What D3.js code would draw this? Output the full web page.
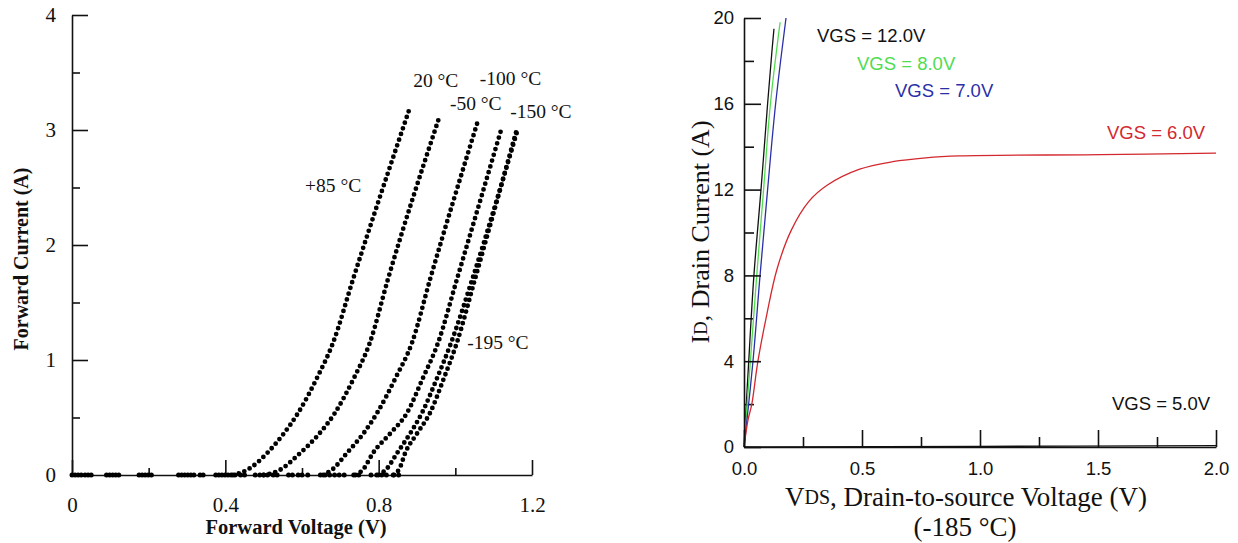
<!DOCTYPE html>
<html>
<head>
<meta charset="utf-8">
<script src="https://cdn.jsdelivr.net/npm/d3@7"></script>
<style>
  html, body { margin: 0; padding: 0; background: #fff; }
  svg { display: block; }
</style>
</head>
<body>
<svg id="chart" width="1238" height="543"></svg>
<script>
// ---------- Left panel: diode forward characteristics ----------
const tempLabels = ["+85 °C", "20 °C", "-50 °C", "-100 °C", "-150 °C", "-195 °C"];
// [forward voltage (V), forward current (A)]
const curve85   = [[0.42,0],[0.46,0.05],[0.509,0.19],[0.55,0.35],[0.59,0.54],[0.64,0.85],[0.681,1.15],[0.733,1.70],[0.882,3.2]];
const curve20   = [[0.50,0],[0.54,0.04],[0.595,0.19],[0.64,0.34],[0.686,0.54],[0.735,0.84],[0.777,1.15],[0.824,1.70],[0.957,3.10]];
const curveM50  = [[0.655,0],[0.68,0.05],[0.717,0.19],[0.76,0.36],[0.796,0.54],[0.845,0.85],[0.887,1.15],[0.934,1.70],[1.059,3.08]];
const curveM100 = [[0.74,0],[0.76,0.05],[0.785,0.19],[0.83,0.36],[0.874,0.54],[0.915,0.84],[0.955,1.15],[1.004,1.70],[1.122,3.03]];
const curveM150 = [[0.80,0],[0.82,0.05],[0.848,0.19],[0.88,0.35],[0.913,0.54],[0.952,0.84],[0.989,1.15],[1.044,1.70],[1.164,3.02]];
const curveM195 = [[0.84,0],[0.855,0.06],[0.869,0.19],[0.90,0.36],[0.934,0.54],[0.97,0.84],[1.004,1.15],[1.051,1.70],[1.16,3.0]];
const diodeCurves = [curve85, curve20, curveM50, curveM100, curveM150, curveM195];
// zero-current readings along the voltage axis
const baselineV = [0, 0.008, 0.016, 0.024, 0.034, 0.042, 0.05, 0.09, 0.098, 0.106, 0.114, 0.122,
  0.175, 0.183, 0.191, 0.199, 0.207, 0.278, 0.286, 0.294, 0.302, 0.31, 0.318, 0.334, 0.342,
  0.375, 0.383, 0.391, 0.399, 0.407, 0.415, 0.425, 0.44, 0.45, 0.478, 0.49, 0.5, 0.51, 0.525, 0.535,
  0.565, 0.575, 0.59, 0.6, 0.615, 0.648, 0.66, 0.672, 0.685, 0.697, 0.71, 0.735, 0.748, 0.78, 0.795,
  0.808, 0.82, 0.838, 0.852];
const leftXTicks = [0, 0.4, 0.8, 1.2];
const leftXMinor = [0.2, 0.6, 1.0];
const leftYTicks = [0, 1, 2, 3, 4];
const leftYMinor = [0.5, 1.5, 2.5, 3.5];
// label anchors in data units (V, A)
const tempLabelPos = [[0.608, 2.52], [0.89, 3.43], [0.986, 3.23], [1.064, 3.45], [1.143, 3.16], [1.031, 1.15]];

// ---------- Right panel: MOSFET output characteristics ----------
const vgsLabels = ["VGS = 12.0V", "VGS = 8.0V", "VGS = 7.0V", "VGS = 6.0V", "VGS = 5.0V"];
const vgsColors = ["#111111", "#4fdc4f", "#2a2fa8", "#d2282e", "#111111"];
// [drain-source voltage (V), drain current (A)]
const vgs12 = [[0,0],[0.02,4],[0.042,8],[0.072,12],[0.1,16],[0.118,18.4],[0.127,19.5]];
const vgs8  = [[0,0],[0.027,4],[0.054,8],[0.083,12],[0.112,16],[0.153,19.8]];
const vgs7  = [[0,0],[0.038,4],[0.068,8],[0.1,12],[0.134,16],[0.178,20]];
const vgs6  = [[0,0],[0.017,1.26],[0.033,2.0],[0.059,4.0],[0.097,6.2],[0.14,8.3],[0.2,10.1],[0.275,11.45],
               [0.352,12.2],[0.49,12.95],[0.63,13.3],[0.77,13.48],[0.915,13.57],[1.51,13.63],[2.0,13.7]];
const vgs5  = [[0,0],[1.0,0.03],[2.0,0.06]];
const mosCurves = [vgs12, vgs8, vgs7, vgs6, vgs5];
const rightXTicks = [0, 0.5, 1.0, 1.5, 2.0];
const rightXMinor = [0.25, 0.75, 1.25, 1.75];
const rightYTicks = [0, 4, 8, 12, 16, 20];
const rightYMinor = [2, 6, 10, 14, 18];
const vgsLabelPos = [[0.309, 19.2], [0.479, 17.9], [0.64, 16.64], [1.538, 14.64], [1.559, 2.05]];

const svg = d3.select("#chart");
svg.append("rect").attr("width", 1238).attr("height", 543).attr("fill", "#fff");

// ===== Left panel =====
const lx = d3.scaleLinear().domain([0, 1.2]).range([72, 532]);
const ly = d3.scaleLinear().domain([0, 4]).range([475, 15]);
const serif = "'Liberation Serif', 'Times New Roman', serif";
const sans = "'Liberation Sans', Arial, sans-serif";

const L = svg.append("g");

function styleAxis(g, font, size) {
  g.select(".domain").attr("stroke", "#111").attr("stroke-width", 1.6);
  g.selectAll(".tick line").attr("stroke", "#111").attr("stroke-width", 1.6);
  g.selectAll(".tick text").attr("fill", "#111").style("font-family", font).style("font-size", size + "px");
}

L.append("g").attr("transform", `translate(0,${ly(0)})`)
  .call(d3.axisBottom(lx).tickValues(leftXMinor).tickSize(-7).tickSizeOuter(0).tickFormat(""))
  .call(g => { styleAxis(g, serif, 21); g.select(".domain").remove(); });
L.append("g").attr("transform", `translate(${lx(0)},0)`)
  .call(d3.axisLeft(ly).tickValues(leftYMinor).tickSize(-8).tickSizeOuter(0).tickFormat(""))
  .call(g => { styleAxis(g, serif, 21); g.select(".domain").remove(); });
L.append("g").attr("transform", `translate(0,${ly(0)})`)
  .call(d3.axisBottom(lx).tickValues(leftXTicks).tickSize(-15).tickSizeOuter(0).tickPadding(22)
        .tickFormat(d => d === 0 ? "0" : d3.format(".1f")(d)))
  .call(g => styleAxis(g, serif, 21));
L.append("g").attr("transform", `translate(${lx(0)},0)`)
  .call(d3.axisLeft(ly).tickValues(leftYTicks).tickSize(-16).tickSizeOuter(0).tickPadding(16)
        .tickFormat(d3.format("d")))
  .call(g => styleAxis(g, serif, 21));

L.append("text")
  .attr("transform", `translate(21,${(ly(0) + ly(4)) / 2 + 14}) rotate(-90)`)
  .attr("text-anchor", "middle").attr("dominant-baseline", "central")
  .style("font-family", serif).style("font-size", "20px").style("font-weight", "bold")
  .attr("fill", "#111").text("Forward Current (A)");
L.append("text")
  .attr("x", 296).attr("y", 527)
  .attr("text-anchor", "middle").attr("dominant-baseline", "central")
  .style("font-family", serif).style("font-size", "20.5px").style("font-weight", "bold")
  .attr("fill", "#111").text("Forward Voltage (V)");

// measured points drawn as a dotted trace
const dLine = d3.line().x(d => lx(d[0])).y(d => ly(d[1])).curve(d3.curveMonotoneX);
L.append("g").selectAll("path").data(diodeCurves).join("path")
  .attr("d", dLine).attr("fill", "none").attr("stroke", "#000")
  .attr("stroke-width", 4.8).attr("stroke-linecap", "round").attr("stroke-dasharray", "0 6");
L.append("g").selectAll("circle").data(baselineV).join("circle")
  .attr("cx", d => lx(d)).attr("cy", ly(0)).attr("r", 2.5).attr("fill", "#000");

L.append("g").selectAll("text").data(tempLabels).join("text")
  .attr("x", (d, i) => lx(tempLabelPos[i][0])).attr("y", (d, i) => ly(tempLabelPos[i][1]))
  .attr("dominant-baseline", "central")
  .style("font-family", serif).style("font-size", "19.5px").attr("fill", "#111")
  .text(d => d);

// ===== Right panel =====
const rx = d3.scaleLinear().domain([0, 2]).range([744, 1216]);
const ry = d3.scaleLinear().domain([0, 20]).range([447, 18]);
const R = svg.append("g");

R.append("g").attr("transform", `translate(0,${ry(0)})`)
  .call(d3.axisBottom(rx).tickValues(rightXMinor).tickSize(-10).tickSizeOuter(0).tickFormat(""))
  .call(g => { styleAxis(g, sans, 18); g.select(".domain").remove(); });
R.append("g").attr("transform", `translate(${rx(0)},0)`)
  .call(d3.axisLeft(ry).tickValues(rightYMinor).tickSize(-10).tickSizeOuter(0).tickFormat(""))
  .call(g => { styleAxis(g, sans, 18); g.select(".domain").remove(); });

const mLine = d3.line().x(d => rx(d[0])).y(d => ry(d[1])).curve(d3.curveCatmullRom.alpha(0.5));
R.append("g").selectAll("path").data(mosCurves).join("path")
  .attr("d", mLine).attr("fill", "none")
  .attr("stroke", (d, i) => vgsColors[i]).attr("stroke-width", 1.3);

R.append("g").attr("transform", `translate(0,${ry(0)})`)
  .call(d3.axisBottom(rx).tickValues(rightXTicks).tickSize(-17).tickSizeOuter(0).tickPadding(15)
        .tickFormat(d3.format(".1f")))
  .call(g => styleAxis(g, sans, 18.5));
R.append("g").attr("transform", `translate(${rx(0)},0)`)
  .call(d3.axisLeft(ry).tickValues(rightYTicks).tickSize(-17).tickSizeOuter(0).tickPadding(10)
        .tickFormat(d3.format("d")))
  .call(g => styleAxis(g, sans, 18.5));

R.append("g").selectAll("text").data(vgsLabels).join("text")
  .attr("x", (d, i) => rx(vgsLabelPos[i][0])).attr("y", (d, i) => ry(vgsLabelPos[i][1]))
  .attr("dominant-baseline", "central")
  .style("font-family", sans).style("font-size", "18.5px")
  .attr("fill", (d, i) => vgsColors[i])
  .text(d => d);

// axis titles with small-cap subscripts
const yTitle = R.append("text")
  .attr("transform", `translate(700,232) rotate(-90)`)
  .attr("text-anchor", "middle").attr("dominant-baseline", "central")
  .style("font-family", serif).style("font-size", "26px").attr("fill", "#111");
yTitle.append("tspan").text("I");
yTitle.append("tspan").style("font-size", "19px").text("D");
yTitle.append("tspan").text(", Drain Current (A)");

const xTitle = R.append("text")
  .attr("x", 966).attr("y", 497)
  .attr("text-anchor", "middle").attr("dominant-baseline", "central")
  .style("font-family", serif).style("font-size", "27px").attr("fill", "#111");
xTitle.append("tspan").text("V");
xTitle.append("tspan").style("font-size", "20px").text("DS");
xTitle.append("tspan").text(", Drain-to-source Voltage (V)");

R.append("text")
  .attr("x", 965).attr("y", 527)
  .attr("text-anchor", "middle").attr("dominant-baseline", "central")
  .style("font-family", serif).style("font-size", "27px").attr("fill", "#111")
  .text("(-185 °C)");
</script>
</body>
</html>
